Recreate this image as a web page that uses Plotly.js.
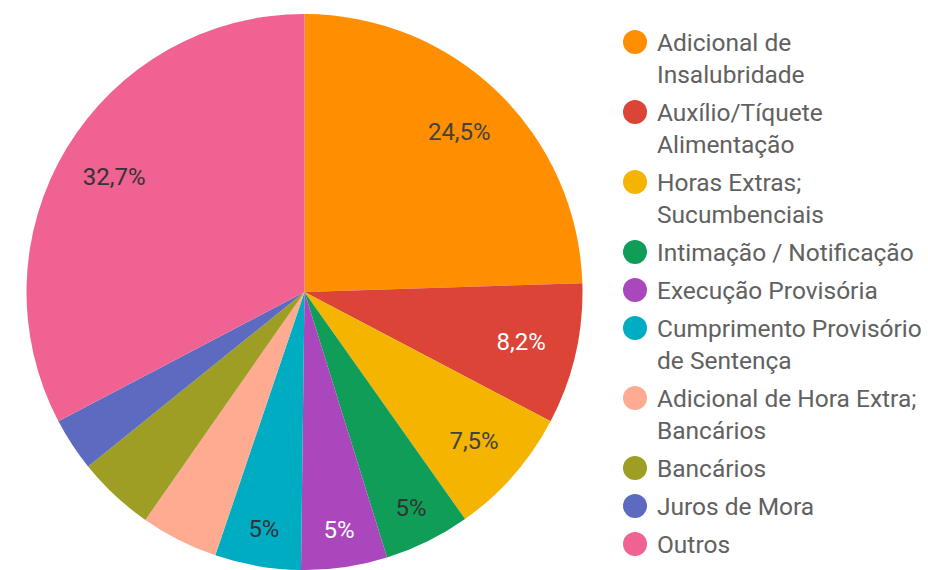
<!DOCTYPE html>
<html>
<head>
<meta charset="utf-8">
<script src="https://cdn.plot.ly/plotly-3.0.1.min.js"></script>
<style>html,body{margin:0;padding:0;background:#fff}#chart{width:928px;height:570px}</style>
</head>
<body>
<div id="chart"></div>
<script>
// ---- data ----
var categories = ['Adicional de Insalubridade', 'Auxílio/Tíquete Alimentação', 'Horas Extras; Sucumbenciais',
  'Intimação / Notificação', 'Execução Provisória', 'Cumprimento Provisório de Sentença',
  'Adicional de Hora Extra; Bancários', 'Bancários', 'Juros de Mora', 'Outros'];
var values = [24.5, 8.2, 7.5, 5, 5, 5, 4.5, 4.5, 3.1, 32.7];
var legendLines = [['Adicional de', 'Insalubridade'], ['Auxílio/Tíquete', 'Alimentação'], ['Horas Extras;', 'Sucumbenciais'],
  ['Intimação / Notificação'], ['Execução Provisória'], ['Cumprimento Provisório', 'de Sentença'],
  ['Adicional de Hora Extra;', 'Bancários'], ['Bancários'], ['Juros de Mora'], ['Outros']];
var colors = ['#FF8F00', '#DB4437', '#F4B400', '#0F9D58', '#AB47BC', '#00ACC1', '#FFAB91', '#9E9D24', '#5C6BC0', '#F06292'];
var labelColors = ['#424242', '#ffffff', '#424242', '#333333', '#ffffff', '#333333', '#424242', '#424242', '#424242', '#333333'];

// ---- layout constants ----
var W = 928, H = 570, MT = 14, MB = 0;
var PH = H - MT - MB;
var FONT = 'Roboto, "Noto Sans", sans-serif';
var pieDomain = {x: [0, 609 / W], y: [0, 1]};

var fillPie = {
  type: 'pie', labels: categories, values: values, sort: false, direction: 'clockwise', rotation: 0,
  marker: {colors: colors, line: {width: 0}}, textinfo: 'none', hoverinfo: 'label+percent',
  domain: pieDomain, showlegend: false
};
var labelPie = {
  type: 'pie', labels: categories, values: values, sort: false, direction: 'clockwise', rotation: 0,
  hole: 0.6,
  marker: {colors: values.map(function () { return 'rgba(0,0,0,0)'; }), line: {width: 0}},
  texttemplate: '%{percent}',
  textposition: values.map(function (v) { return v >= 5 ? 'inside' : 'none'; }),
  insidetextorientation: 'horizontal',
  insidetextfont: {family: FONT, size: 24, color: labelColors},
  hoverinfo: 'skip', domain: pieDomain, showlegend: false
};

// ---- custom legend (circle markers, wrapped text) ----
function py(pix) { return 1 - (pix - MT) / PH; }
var annotations = [], shapes = [];
var y0 = 42, lineStep = 32, itemGap = 6, textX = 655, dotX = 635, dotR = 12;
var lineIdx = 0;
legendLines.forEach(function (lines, i) {
  var yFirst = y0 + lineIdx * lineStep + i * itemGap;
  shapes.push({
    type: 'circle', xref: 'paper', yref: 'paper', xsizemode: 'pixel', ysizemode: 'pixel',
    xanchor: dotX / W, yanchor: py(yFirst), x0: -dotR, x1: dotR, y0: -dotR, y1: dotR,
    fillcolor: colors[i], line: {width: 0}
  });
  lines.forEach(function (t, j) {
    annotations.push({
      xref: 'paper', yref: 'paper', x: textX / W, y: py(yFirst + j * lineStep),
      xanchor: 'left', yanchor: 'middle', showarrow: false, text: t,
      font: {family: FONT, size: 24.5, color: '#616161'}
    });
  });
  lineIdx += lines.length;
});

var layout = {
  width: W, height: H, margin: {l: 0, r: 0, t: MT, b: MB},
  paper_bgcolor: '#ffffff', plot_bgcolor: '#ffffff',
  separators: ',.', showlegend: false,
  font: {family: FONT},
  annotations: annotations, shapes: shapes
};
Plotly.newPlot('chart', [fillPie, labelPie], layout, {displayModeBar: false, staticPlot: true});
</script>
</body>
</html>
